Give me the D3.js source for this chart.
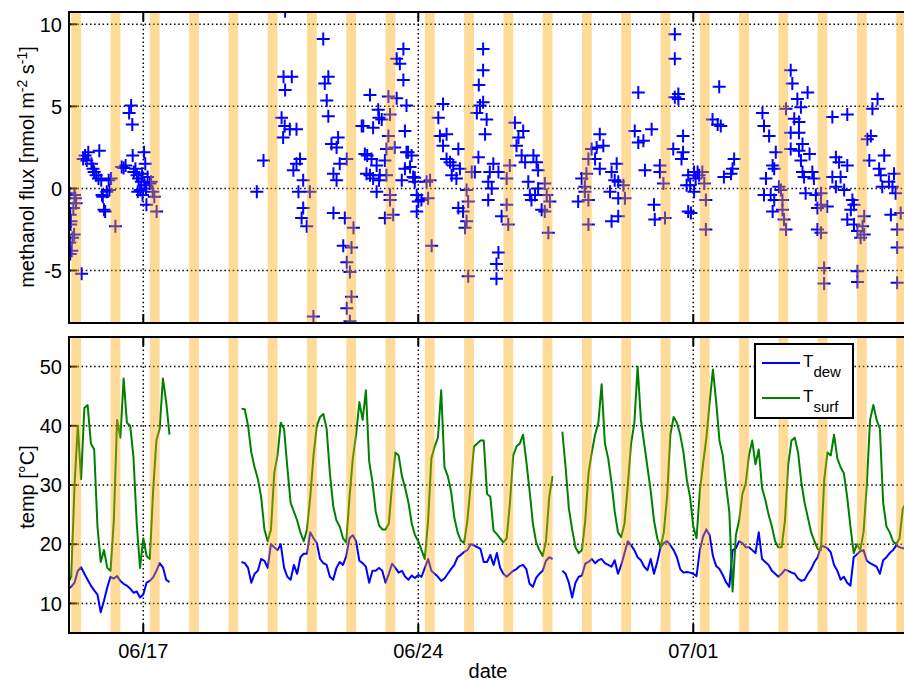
<!DOCTYPE html>
<html><head><meta charset="utf-8">
<script src="https://cdn.jsdelivr.net/npm/d3@7"></script>
<style>
body{margin:0;background:#fff}
text{font-family:"Liberation Sans",Arial,Helvetica,sans-serif;fill:#000}
</style>
</head><body>
<svg id="chart" width="904" height="681"></svg>
<script>
// ---------------- data ----------------
const year = 2013;
const baseDay = "06/15";                 // day offsets below are counted from 06/15 00:00
const xStartDay = 0.109, xEndDay = 21.44; // visible date range (day offsets)
const xTickLabels = ["06/17", "06/24", "07/01"];
const fluxTicks = [-5, 0, 5, 10];
const fluxDomain = [-8.2, 10.75];
const tempTicks = [10, 20, 30, 40, 50];
const tempDomain = [5, 55];
const bandDates = ["06/15","06/16","06/17","06/18","06/19","06/20","06/21","06/22","06/23","06/24","06/25",
  "06/26","06/27","06/28","06/29","06/30","07/01","07/02","07/03","07/04","07/05","07/06"];
const bandHours = [4, 10];

// methanol flux: [day offset, nmol m-2 s-1]
const fluxPoints = [
[0.12,-0.3],[0.13,-3.3],[0.14,-1.6],[0.14,-4.0],[0.15,-2.2],[0.16,-2.0],[0.18,-3.8],[0.2,-3.0],[0.22,-1.2],[0.24,-2.8],[0.25,-0.4],[0.27,-0.6],[0.29,-0.9],[0.43,-5.2],
[0.47,1.8],[0.52,2.0],[0.56,1.7],[0.6,2.2],[0.68,1.5],[0.72,1.2],[0.75,1.0],[0.8,0.8],[0.86,0.6],[0.88,2.3],[0.93,0.5],[0.95,-0.4],[0.97,-0.5],[1.0,-1.3],[1.03,-1.4],[1.07,-0.2],[1.12,0.5],[1.14,-0.1],[1.18,0.6],[1.29,-2.3],
[1.45,1.3],[1.5,1.25],[1.55,1.4],[1.64,4.6],[1.69,5.05],[1.72,3.9],[1.73,2.0],[1.76,1.0],[1.8,1.2],[1.84,0.8],[1.86,-0.2],[1.88,0.6],[1.92,-0.1],[1.95,0.4],[1.97,0.9],[1.98,-0.4],[2.02,2.2],[2.03,0.2],[2.05,1.5],[2.07,0],[2.08,-1.0],[2.11,0.7],[2.17,0.3],[2.2,0.4],[2.24,-0.2],[2.28,-0.5],[2.34,-1.4],
[4.89,-0.2],[5.06,1.7],
[5.52,4.3],[5.56,3.1],[5.57,6.8],[5.6,3.8],[5.61,10.8],[5.61,6.0],[5.73,3.6],[5.78,6.8],[5.82,1.1],[5.9,3.6],[5.9,1.5],[5.95,-0.2],[5.99,1.8],[6.03,-1.8],[6.07,0.5],[6.07,-1.2],[6.16,-2.3],[6.24,-0.2],[6.33,-7.8],
[6.58,9.1],[6.62,6.4],[6.67,5.35],[6.71,6.8],[6.71,4.4],[6.79,2.7],[6.84,0.9],[6.84,-1.5],[6.92,2.5],[6.92,0.5],[6.96,3.1],[7.0,1.5],[7.09,-3.5],[7.13,-1.8],[7.18,1.8],[7.18,-4.5],[7.18,-7.3],[7.26,-5.1],[7.26,-8.1],[7.3,-3.6],[7.3,-6.6],[7.35,-2.4],
[7.56,3.8],[7.6,3.8],[7.64,2.1],[7.68,0.9],[7.7,2.0],[7.77,5.7],[7.77,0.8],[7.81,1.8],[7.85,3.7],[7.85,0.6],[7.94,1.4],[7.94,-0.2],[7.98,4.8],[8.0,4.3],[8.0,0.5],[8.02,0.8],[8.07,4.2],[8.15,1.7],[8.15,-1.8],[8.19,2.4],[8.19,0.8],[8.24,5.6],[8.24,3.2],[8.28,4.5],[8.28,-0.4],[8.28,-0.7],[8.36,-1.6],[8.4,2.5],[8.45,5.5],[8.45,7.9],[8.53,7.6],[8.58,0.5],[8.62,8.5],[8.62,6.6],[8.66,3.5],[8.66,1.2],[8.7,5.05],[8.7,2.2],[8.74,2.2],[8.79,1.3],[8.83,2.0],[8.87,0.7],[8.91,0.4],[8.91,0.65],[8.96,-0.4],[8.96,-1.4],[9.0,-0.8],[9.08,-0.7],
[9.21,0.4],[9.25,-0.6],[9.3,0.5],[9.34,-3.5],[9.51,4.3],[9.55,3.2],[9.63,5.15],[9.63,2.6],[9.72,3.3],[9.72,1.8],[9.81,1.6],[9.85,0.8],[9.89,1.4],[9.97,0.6],[10.02,2.4],[10.02,-1.2],[10.06,1.2],[10.14,-1.4],[10.19,-2.4],[10.23,-0.1],[10.23,-2.0],[10.27,-0.8],[10.27,-5.35],[10.36,1.0],
[10.44,1.0],[10.49,4.6],[10.53,1.9],[10.54,6.3],[10.57,5.05],[10.65,8.5],[10.65,7.2],[10.65,5.25],[10.7,3.3],[10.74,4.2],[10.78,0.4],[10.78,-0.7],[10.82,1.0],[10.87,0],[10.91,1.5],[10.99,-4.6],[10.99,-5.5],[11.04,1.0],[11.04,-3.9],[11.12,-1.7],[11.25,0.6],[11.25,-1.0],[11.29,-2.2],[11.33,1.4],
[11.46,4.0],[11.5,2.6],[11.55,3.1],[11.63,2.0],[11.67,3.5],[11.72,1.6],[11.8,0.4],[11.84,-0.4],[11.88,-0.7],[11.93,2.0],[11.97,-0.4],[12.01,1.6],[12.05,1.1],[12.05,0],[12.14,-1.3],[12.22,0.3],[12.22,-1.4],[12.27,-0.4],[12.31,-2.7],[12.35,-0.8],
[13.07,-0.8],[13.16,0.6],[13.24,0.1],[13.24,-0.2],[13.28,0.9],[13.33,1.8],[13.33,-0.7],[13.33,-2.2],[13.41,2.4],[13.5,1.8],[13.54,2.5],[13.62,3.3],[13.62,1.2],[13.71,2.6],[13.88,-0.2],[13.92,1.0],[13.92,-2.0],[14.0,0.5],[14.05,1.5],[14.09,0.4],[14.09,-0.6],[14.09,-1.7],[14.22,0.2],[14.26,-0.6],
[14.51,3.5],[14.6,5.85],[14.6,2.8],[14.73,2.9],[14.77,1.1],[14.94,3.6],[15.0,-1.0],[15.02,-1.9],[15.15,1.4],[15.15,1.0],[15.24,0.3],[15.28,-1.8],[15.49,2.4],[15.53,9.4],[15.53,7.9],[15.53,5.55],[15.62,5.75],[15.62,5.45],[15.7,1.8],[15.74,3.2],[15.74,2.2],[15.83,0.2],[15.87,-1.4],[15.87,0.8],[15.92,0.2],
[15.94,-1.5],[16.02,1.0],[16.02,-0.2],[16.06,0.6],[16.11,1.0],[16.15,0.8],[16.23,1.0],[16.28,0.3],[16.32,-0.7],[16.32,-2.5],
[16.49,4.2],[16.62,3.9],[16.66,6.2],[16.7,3.8],[16.78,0.7],[16.96,0.9],[17.0,1.2],[17.04,1.8],
[17.76,4.6],[17.8,3.8],[17.8,-0.4],[17.85,0.6],[17.93,3.2],[17.97,-0.4],[18.02,1.4],[18.02,-1.4],[18.06,1.2],[18.06,-0.7],[18.1,2.2],[18.18,0.1],[18.23,-0.1],[18.27,-0.7],[18.27,-1.3],[18.31,-1.9],[18.36,-2.5],[18.36,4.85],
[18.48,7.2],[18.48,3.4],[18.48,2.4],[18.52,6.4],[18.57,4.25],[18.65,5.45],[18.69,4.05],[18.69,3.4],[18.69,2.3],[18.74,4.95],[18.74,1.7],[18.78,2.7],[18.78,1.0],[18.82,0.7],[18.86,-0.3],[18.91,5.85],[18.96,2.1],[19.03,1.0],[19.07,0.6],[19.12,-0.4],[19.16,-1.2],[19.16,-2.5],[19.25,-1.0],[19.25,-0.3],[19.25,-2.7],[19.33,-4.85],[19.33,-5.8],[19.41,-1.1],
[19.54,4.35],[19.54,0.7],[19.63,1.9],[19.63,0.1],[19.71,1.6],[19.75,0.7],[19.84,-0.1],[19.92,4.5],[19.92,1.4],[19.92,-1.9],[20.01,-1.3],[20.05,-0.7],[20.09,-1.0],[20.09,-2.2],[20.18,-2.6],[20.18,-5.05],[20.18,-5.7],[20.26,-3.0],[20.31,-2.3],[20.35,-1.7],[20.35,-2.8],
[20.43,3.0],[20.48,1.7],[20.52,3.2],[20.56,4.85],[20.69,5.45],[20.73,1.2],[20.77,0.8],[20.81,0.1],[20.86,2.0],[20.98,0.4],[21.03,-1.6],[21.07,0.1],[21.11,0.9],[21.15,-0.3],[21.19,-2.5],[21.19,-3.6],[21.19,-5.75],[21.28,-1.5]
];

// temperatures, one value every 2 h; segment 1 starts 06/15 02:00, segment 2 starts 06/19 12:00
const stepHours = 2;
const seg1StartDay = 2/24, seg2StartDay = 4.5;
const tsurf1 = [13.5,14.5,30,40,31,43,43.5,37,36,23,17,19,16,15.5,24,41,38,48,40.5,40,34.7,23.5,16,21,18,17.5,29,37.5,39.5,48,44,38.5];
const tdew1  = [12.5,12.8,13.5,15.5,16.1,15,14,13,12.2,11.5,8.5,10.5,12.7,14.5,14.2,14.6,13.8,13.3,13,12.5,11.8,12,11,11.5,13.5,13.8,14.4,15.5,16.8,16.1,14,13.6];
const tsurf2 = [
42.9,42.8,40,35.5,33,31,28,22.5,20.5,22.5,32,35,
40.5,39.5,33,27,25.5,24,22,20.5,22.5,28,35,40,
41.5,42,39.5,32,26.5,24,23,21,20.3,28,34.5,38.5,
44,41,46,34,30.5,25.5,23.2,22.5,22.5,23.5,30,35.5,
35,31.5,29.5,27,23.5,21.5,20.5,19,17.5,24,34.5,36.5,
38,46,33,31.5,29,24.5,22,20.6,20.2,24,30,36.5,
37,37.5,37.5,28.5,28,22.3,21.7,21,20.3,21,27,35,
36.5,37,38.5,34,29,23.5,20.3,19,18,20.5,28,31.5,
null,null,39,33,26,22.5,19.5,18.5,19,24,32,35.5,
38.5,40.5,47,37,34.5,30.5,25.5,22,21.2,23.5,30,37,
40.5,50,41,37,33,29,24,21,19.5,22,28,38.5,
41.5,40.5,38.5,35.5,31,28,23,21,29,33.6,38,44,
49.5,44,37.5,35,30,25.5,12,21.5,24,28.5,30.2,35,
37.5,33.5,36,29.5,27.5,25,23,20.5,19.5,19.5,24,33.5,
37.5,38,35.5,30.5,27,24.5,22,20.5,19.2,19,31,35.5,
35,38.5,34.5,33,32,28,23,18.5,20,19,22,30,
41,43.5,41,39.5,27,23,22,20.5,20,21,26,27];
const tdew2 = [
17,16.8,16,13.5,15,15.5,17.5,17.2,16,20,19.5,19,
20,16,14.5,14,16.5,15,17.8,18.4,18.4,22,21,20.2,
17.5,16.8,16.5,14.5,14,16,17,16.5,18,21,21.5,20.5,
17.2,16.8,16.2,13.5,15.5,15.5,16,15.5,13.5,15,16.7,16,
15.2,15.5,14.5,14,14.7,14.3,14.8,14.5,16,17.5,15.5,15,
14.5,13.8,14.2,15,15.8,16.5,17.8,18.2,18.7,19,20,19.8,
19.5,19.2,17,17,18.2,16.5,18.5,16,15,14.5,15,15.5,
15.8,16.3,16.5,15.8,13.3,12.8,14.3,15,15.5,17.2,17.8,17.5,
null,null,15.5,15,13.5,11,13.5,14.5,14.7,16.7,17,17.5,
16.8,17.3,17.5,16.8,16.5,16.2,17.3,15,16.5,18.5,20.5,19.8,
19,17.8,17.3,16.2,15.6,17.5,15,17,19.5,20.2,20.5,19.8,
19,17.8,15.8,15.2,15.3,15.2,15,14.6,19,21.3,22.5,21.5,
18,16.3,15.8,14.8,13.6,12.8,19,19.3,20.5,20.2,19.5,19.5,
19,18.5,22,17.5,17,16.5,15.5,15,14.5,15,15.7,15.5,
15.2,15,14.2,13.8,14,15,15.8,17,17.8,19.7,19.6,19.3,
18.6,16.5,15.5,14,14.5,13.5,13,17.8,18.3,18.8,19,17.2,
16.8,16.5,16.2,15,17.3,17.8,18.5,19,19.8,19.5,19.3,19.3];

// ---------------- drawing ----------------
const svg = d3.select("#chart");
svg.append("rect").attr("width", 904).attr("height", 681).attr("fill", "#fff");

const parseLabel = d3.utcParse("%Y/%m/%d");
const base = parseLabel(year + "/" + baseDay).getTime();
const dayToDate = d => new Date(base + d * 864e5);
const labelToDate = s => parseLabel(year + "/" + s);

const L = 69, R = 907;
const P1 = {top: 12, bottom: 323}, P2 = {top: 337, bottom: 633};
const x = d3.scaleUtc().domain([dayToDate(xStartDay), dayToDate(xEndDay)]).range([L, R]);
const yF = d3.scaleLinear().domain(fluxDomain).range([P1.bottom, P1.top]);
const yT = d3.scaleLinear().domain(tempDomain).range([P2.bottom, P2.top]);
const xTickDates = xTickLabels.map(labelToDate);
const defs = svg.append("defs");

const BLUE = "#0000ff", GREEN = "#008000";

function panelFrame(P, y, ticks, id) {
  defs.append("clipPath").attr("id", id).append("rect")
    .attr("x", L).attr("y", P.top).attr("width", R - L).attr("height", P.bottom - P.top);
  const g = svg.append("g");
  // dotted grid
  g.selectAll(".hg").data(ticks).join("line")
    .attr("x1", L).attr("x2", R).attr("y1", d => y(d)).attr("y2", d => y(d))
    .attr("stroke", "#000").attr("stroke-width", 1.5).attr("stroke-dasharray", "1.5,2.7");
  g.selectAll(".vg").data(xTickDates).join("line")
    .attr("x1", d => x(d)).attr("x2", d => x(d)).attr("y1", P.top).attr("y2", P.bottom)
    .attr("stroke", "#000").attr("stroke-width", 1.5).attr("stroke-dasharray", "1.5,2.7");
  // inward tick marks
  g.selectAll(".yt").data(ticks).join("line")
    .attr("x1", L).attr("x2", L + 8).attr("y1", d => y(d)).attr("y2", d => y(d))
    .attr("stroke", "#000").attr("stroke-width", 2);
  g.selectAll(".xtb").data(xTickDates).join("line")
    .attr("x1", d => x(d)).attr("x2", d => x(d)).attr("y1", P.bottom).attr("y2", P.bottom - 9)
    .attr("stroke", "#000").attr("stroke-width", 2);
  g.selectAll(".xtt").data(xTickDates).join("line")
    .attr("x1", d => x(d)).attr("x2", d => x(d)).attr("y1", P.top).attr("y2", P.top + 9)
    .attr("stroke", "#000").attr("stroke-width", 2);
  // y tick labels
  g.selectAll(".yl").data(ticks).join("text")
    .attr("x", 62).attr("y", d => y(d)).attr("dy", "0.36em")
    .attr("text-anchor", "end").attr("font-size", 20).text(d => d);
}

function bands(P, id) {
  svg.append("g").attr("clip-path", `url(#${id})`)
    .selectAll("rect").data(bandDates).join("rect")
    .attr("x", d => x(new Date(labelToDate(d).getTime() + bandHours[0] * 36e5)))
    .attr("width", d => x(new Date(labelToDate(d).getTime() + bandHours[1] * 36e5)) - x(new Date(labelToDate(d).getTime() + bandHours[0] * 36e5)))
    .attr("y", P.top).attr("height", P.bottom - P.top)
    .attr("fill", "#ffa500").attr("fill-opacity", 0.4);
}

function box(P) {
  svg.append("rect").attr("x", L).attr("y", P.top).attr("width", R - L).attr("height", P.bottom - P.top)
    .attr("fill", "none").attr("stroke", "#000").attr("stroke-width", 2);
}

// ---- top panel: methanol flux ----
panelFrame(P1, yF, fluxTicks, "clip1");
svg.append("g").attr("clip-path", "url(#clip1)")
  .selectAll("path").data(fluxPoints).join("path")
  .attr("transform", d => `translate(${x(dayToDate(d[0]))},${yF(d[1])})`)
  .attr("d", "M-6.5,0H6.5M0,-6.5V6.5")
  .attr("stroke", BLUE).attr("stroke-width", 2).attr("fill", "none");
bands(P1, "clip1");
box(P1);

// ---- bottom panel: temperatures ----
panelFrame(P2, yT, tempTicks, "clip2");
const stepDays = stepHours / 24;
function series(a1, a2) {
  const s1 = a1.map((v, i) => ({t: dayToDate(seg1StartDay + i * stepDays), v}));
  const s2 = a2.map((v, i) => ({t: dayToDate(seg2StartDay + i * stepDays), v}));
  return s1.concat([{t: dayToDate(seg2StartDay - stepDays), v: null}], s2);
}
const line = d3.line().defined(d => d.v != null).x(d => x(d.t)).y(d => yT(d.v));
const lg = svg.append("g").attr("clip-path", "url(#clip2)");
lg.append("path").datum(series(tdew1, tdew2)).attr("d", line)
  .attr("fill", "none").attr("stroke", BLUE).attr("stroke-width", 2).attr("stroke-linejoin", "round");
lg.append("path").datum(series(tsurf1, tsurf2)).attr("d", line)
  .attr("fill", "none").attr("stroke", GREEN).attr("stroke-width", 2).attr("stroke-linejoin", "round");
bands(P2, "clip2");
box(P2);

// x tick labels and axis labels
svg.selectAll(".xl").data(xTickDates).join("text")
  .attr("x", d => x(d)).attr("y", 658).attr("text-anchor", "middle").attr("font-size", 20)
  .text(d => d3.utcFormat("%m/%d")(d));
svg.append("text").attr("x", (L + R) / 2).attr("y", 678).attr("text-anchor", "middle")
  .attr("font-size", 20).text("date");

const yl1 = svg.append("text").attr("transform", "translate(34,167) rotate(-90)")
  .attr("text-anchor", "middle").attr("font-size", 20);
yl1.append("tspan").text("methanol flux [nmol m");
yl1.append("tspan").attr("dy", -7).attr("font-size", 14).text("-2");
yl1.append("tspan").attr("dy", 7).text(" s");
yl1.append("tspan").attr("dy", -7).attr("font-size", 14).text("-1");
yl1.append("tspan").attr("dy", 7).text("]");

svg.append("text").attr("transform", "translate(34,487) rotate(-90)")
  .attr("text-anchor", "middle").attr("font-size", 20).text("temp [°C]");

// legend
const leg = svg.append("g");
leg.append("rect").attr("x", 755).attr("y", 344).attr("width", 98).attr("height", 74)
  .attr("fill", "#fff").attr("stroke", "#000").attr("stroke-width", 2);
const legItems = [{c: BLUE, sub: "dew", y: 363}, {c: GREEN, sub: "surf", y: 398}];
legItems.forEach(it => {
  leg.append("line").attr("x1", 762).attr("x2", 800).attr("y1", it.y).attr("y2", it.y)
    .attr("stroke", it.c).attr("stroke-width", 2);
  const t = leg.append("text").attr("x", 803).attr("y", it.y + 4).attr("font-size", 17);
  t.append("tspan").text("T");
  t.append("tspan").attr("dy", 10).attr("font-size", 15).text(it.sub);
});
</script>
</body></html>
